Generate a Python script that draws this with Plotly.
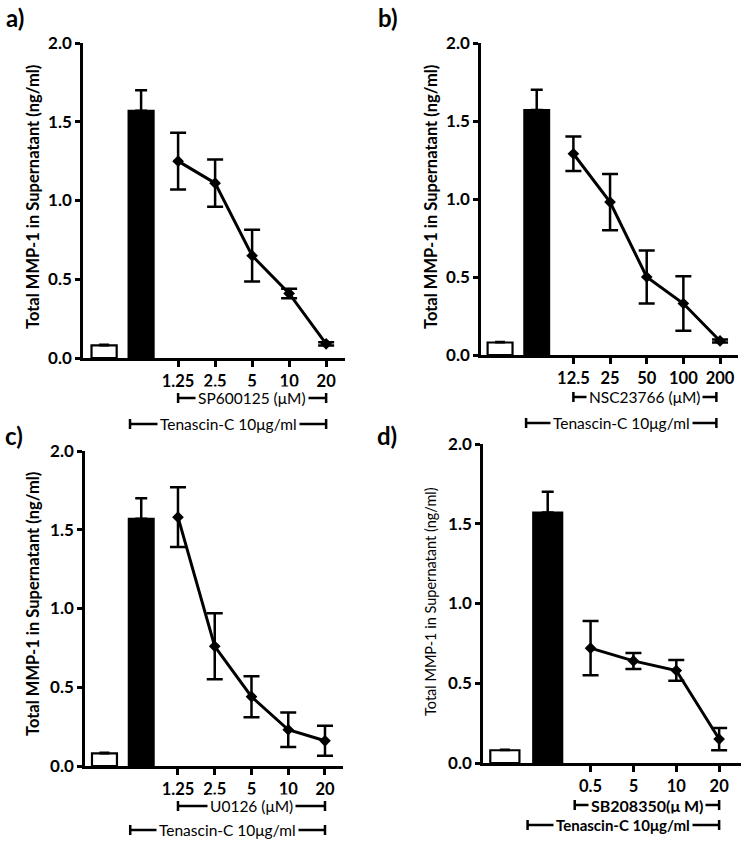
import plotly.graph_objects as go

W, H = 747, 843
FONT = "Lato"

# ---------------- data ----------------
ctrl_means = [0.08, 1.57]          # untreated (white), Tenascin-C (black)
ctrl_sem = [0.005, 0.13]

a_doses = ["1.25", "2.5", "5", "10", "20"]
a_means = [1.25, 1.11, 0.65, 0.41, 0.09]
a_sem = [0.18, 0.15, 0.165, 0.03, 0.01]

b_doses = ["12.5", "25", "50", "100", "200"]
b_means = [1.29, 0.98, 0.50, 0.33, 0.09]
b_sem = [0.11, 0.18, 0.17, 0.175, 0.01]

c_doses = ["1.25", "2.5", "5", "10", "20"]
c_means = [1.58, 0.76, 0.44, 0.23, 0.16]
c_sem = [0.19, 0.21, 0.13, 0.11, 0.095]

d_doses = ["0.5", "5", "10", "20"]
d_means = [0.72, 0.64, 0.58, 0.15]
d_sem = [0.17, 0.05, 0.065, 0.07]

y_ticks = [0.0, 0.5, 1.0, 1.5, 2.0]
y_ticktext = ["0.0", "0.5", "1.0", "1.5", "2.0"]
y_title = "Total MMP-1 in Supernatant (ng/ml)"

panels = [
    dict(label="a)", doses=a_doses, means=a_means, sem=a_sem,
         drug="SP600125 (μM)", ten="Tenascin-C 10μg/ml",
         xpix=(83, 345), xr=(-0.57, 6.51), ypix=(43, 358),
         lab=(15, 17), ytit=(33, 197), ytb=True,
         drug_y=398, drug_x=(2, 6), ten_y=424, ten_x=(0.7, 6), brk_bold=False),
    dict(label="b)", doses=b_doses, means=b_means, sem=b_sem,
         drug="NSC23766 (μM)", ten="Tenascin-C 10μg/ml",
         xpix=(481, 738), xr=(-0.52, 6.49), ypix=(43, 355),
         lab=(388, 17), ytit=(431, 197), ytb=True,
         drug_y=397, drug_x=(2, 5.9), ten_y=423, ten_x=(0.71, 5.9), brk_bold=False),
    dict(label="c)", doses=c_doses, means=c_means, sem=c_sem,
         drug="U0126 (μM)", ten="Tenascin-C 10μg/ml",
         xpix=(85, 343), xr=(-0.53, 6.49), ypix=(451, 766),
         lab=(14, 435), ytit=(33, 604), ytb=True,
         drug_y=806, drug_x=(2, 6), ten_y=830, ten_x=(0.7, 6), brk_bold=False),
    dict(label="d)", doses=d_doses, means=d_means, sem=d_sem,
         drug="SB208350(μ M)", ten="Tenascin-C 10μg/ml",
         xpix=(483, 741), xr=(-0.51, 5.51), ypix=(444, 763),
         lab=(387, 435), ytit=(430, 602), ytb=False,
         drug_y=805, drug_x=(1.63, 5), ten_y=825, ten_x=(0.53, 5), brk_bold=True),
]


def px(x):
    return x / W


def py(y):
    return 1 - y / H


def b(s):
    return f"<b>{s}</b>"


fig = go.Figure()
shapes = []
annotations = []
layout_axes = {}

for k, p in enumerate(panels, start=1):
    xa = "x" if k == 1 else f"x{k}"
    ya = "y" if k == 1 else f"y{k}"
    xkey = "xaxis" if k == 1 else f"xaxis{k}"
    ykey = "yaxis" if k == 1 else f"yaxis{k}"
    n = len(p["doses"])
    xpos_pts = list(range(2, 2 + n))

    # control bars
    fig.add_trace(go.Bar(
        x=[0], y=[ctrl_means[0]], width=[0.68], xaxis=xa, yaxis=ya,
        marker=dict(color="white", line=dict(color="black", width=2.2)),
        error_y=dict(type="data", array=[ctrl_sem[0]], arrayminus=[0],
                     color="black", thickness=2, width=5),
        showlegend=False))
    fig.add_trace(go.Bar(
        x=[1], y=[ctrl_means[1]], width=[0.68], xaxis=xa, yaxis=ya,
        marker=dict(color="black", line=dict(color="black", width=2)),
        error_y=dict(type="data", array=[ctrl_sem[1]], arrayminus=[0],
                     color="black", thickness=2.5, width=6),
        showlegend=False))
    # dose response
    fig.add_trace(go.Scatter(
        x=xpos_pts, y=p["means"], mode="lines+markers", xaxis=xa, yaxis=ya,
        line=dict(color="black", width=3),
        marker=dict(symbol="diamond", size=9, color="black"),
        error_y=dict(type="data", array=p["sem"], color="black",
                     thickness=2.5, width=8),
        showlegend=False))

    x0, x1 = p["xpix"]
    yt, yb = p["ypix"]
    layout_axes[xkey] = dict(
        domain=[px(x0), px(x1)], range=list(p["xr"]), anchor=ya,
        showline=True, linewidth=2.5, linecolor="black", showgrid=False,
        zeroline=False, ticks="outside", ticklen=6, tickwidth=2.5,
        tickcolor="black", tickvals=xpos_pts,
        ticktext=[b(t) for t in p["doses"]],
        tickfont=dict(family=FONT, size=16.5, color="black"),
        automargin=False, fixedrange=True)
    layout_axes[ykey] = dict(
        domain=[py(yb), py(yt)], range=[0, 2], anchor=xa,
        showline=True, linewidth=2.5, linecolor="black", showgrid=False,
        zeroline=False, ticks="outside", ticklen=5, tickwidth=2.5,
        tickcolor="black", tickvals=y_ticks,
        ticktext=[b(t) for t in y_ticktext],
        tickfont=dict(family=FONT, size=17, color="black"),
        automargin=False, fixedrange=True)

    # panel label
    annotations.append(dict(
        text=b(p["label"]), x=px(p["lab"][0]), y=py(p["lab"][1]),
        xref="paper", yref="paper", xanchor="center", yanchor="middle",
        showarrow=False, font=dict(family=FONT, size=24, color="black")))
    # y title
    annotations.append(dict(
        text=b(y_title) if p["ytb"] else y_title,
        x=px(p["ytit"][0]), y=py(p["ytit"][1]),
        xref="paper", yref="paper", xanchor="center", yanchor="middle",
        showarrow=False, textangle=-90,
        font=dict(family=FONT, size=16.5 if p["ytb"] else 14.5, color="black")))

    # brackets
    for i, (txt, yy, (bx0, bx1)) in enumerate(
            [(p["drug"], p["drug_y"], p["drug_x"]),
             (p["ten"], p["ten_y"], p["ten_x"])]):
        shapes.append(dict(type="line", xref=xa, yref="paper",
                           x0=bx0, x1=bx1, y0=py(yy), y1=py(yy),
                           line=dict(color="black", width=2.5)))
        for bx in (bx0, bx1):
            shapes.append(dict(type="line", xref=xa, yref="paper",
                               x0=bx, x1=bx, y0=py(yy - 5), y1=py(yy + 5),
                               line=dict(color="black", width=2.5)))
        if p["brk_bold"]:
            fs = 16 if i == 0 else 15
        else:
            fs = 15.5
        annotations.append(dict(
            text=b(txt) if p["brk_bold"] else txt,
            x=(bx0 + bx1) / 2, y=py(yy), xref=xa, yref="paper",
            xanchor="center", yanchor="middle",
            showarrow=False, bgcolor="white", borderpad=2,
            font=dict(family=FONT, size=fs, color="black")))

fig.update_layout(
    width=W, height=H, margin=dict(l=0, r=0, t=0, b=0, autoexpand=False),
    paper_bgcolor="white", plot_bgcolor="white",
    barmode="overlay", shapes=shapes, annotations=annotations,
    font=dict(family=FONT, color="black"),
    **layout_axes)

fig.write_html(
    "out.html",
    config={"displayModeBar": False},
    post_script="document.body.style.margin='0';document.body.style.padding='0';"
                "document.documentElement.style.margin='0';",
)
